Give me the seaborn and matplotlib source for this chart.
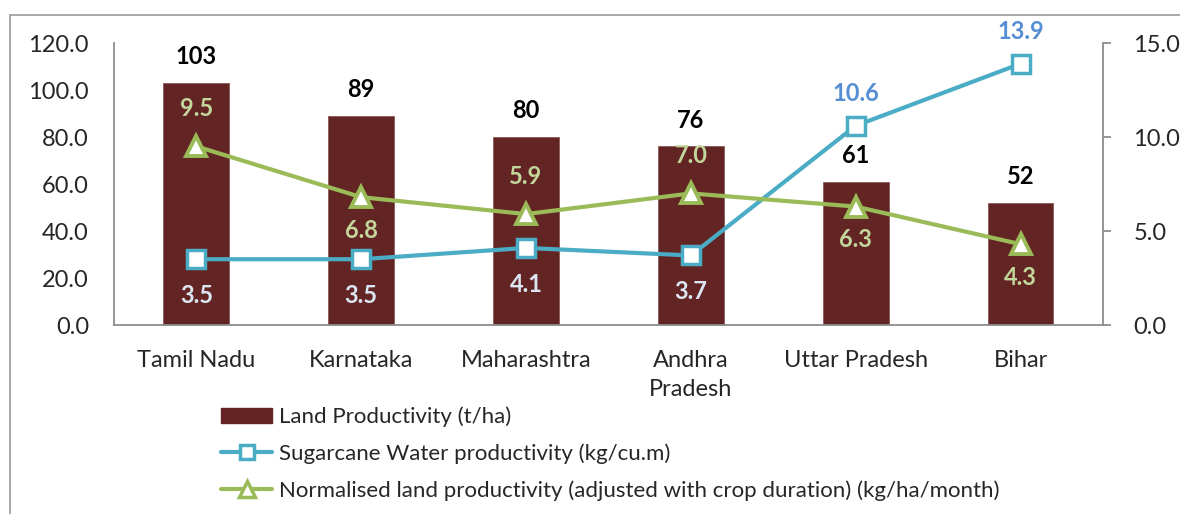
import numpy as np
import matplotlib
matplotlib.use("Agg")
import matplotlib.pyplot as plt
import seaborn as sns
from matplotlib.lines import Line2D
from matplotlib.patches import Patch, Rectangle

# data
states = ["Tamil Nadu", "Karnataka", "Maharashtra", "Andhra\nPradesh", "Uttar Pradesh", "Bihar"]
land_prod = [103, 89, 80, 76, 61, 52]
water_prod = [3.5, 3.5, 4.1, 3.7, 10.6, 13.9]
norm_prod = [9.5, 6.8, 5.9, 7.0, 6.3, 4.3]
water_label_above = [False, False, False, False, True, True]
norm_label_above = [True, False, True, True, False, False]

bar_color = "#632523"
water_color = "#4BACC6"
norm_color = "#9BBB59"

sns.set_style("white")
plt.rcParams["font.family"] = ["Lato", "DejaVu Sans"]

fig = plt.figure(figsize=(11.8, 5.14), dpi=100)
ax = fig.add_axes([0.0966, 0.3677, 0.8381, 0.5486])
pos = np.arange(len(states))

sns.barplot(x=pos, y=land_prod, color=bar_color, width=0.4, ax=ax,
            saturation=1, edgecolor="#8a5a58", linewidth=0.6, native_scale=True)
ax.set_xlim(-0.5, len(states) - 0.5)
ax.set_ylim(0, 120)
ax.set_yticks(np.arange(0, 121, 20))
ax.set_yticklabels([f"{v:.1f}" for v in np.arange(0, 121, 20)])
ax.set_xticks(pos)
ax.set_xticklabels(states, linespacing=1.45)
ax.tick_params(axis="y", length=0, pad=18, labelsize=17)
ax.tick_params(axis="x", length=0, pad=18, labelsize=17)
for s in ["top", "right"]:
    ax.spines[s].set_visible(False)
for s in ["left", "bottom"]:
    ax.spines[s].set_color("#8c8c8c")
    ax.spines[s].set_linewidth(1.3)

for x, v in zip(pos, land_prod):
    ax.annotate(f"{v}", (x, v), xytext=(0, 19), textcoords="offset points",
                ha="center", va="center", fontsize=17, fontweight="bold", color="black")

ax2 = ax.twinx()
sns.lineplot(x=pos, y=water_prod, ax=ax2, color=water_color, linewidth=3,
             marker="s", markersize=13, markerfacecolor="white",
             markeredgecolor=water_color, markeredgewidth=2.5)
sns.lineplot(x=pos, y=norm_prod, ax=ax2, color=norm_color, linewidth=3,
             marker="^", markersize=14, markerfacecolor="white",
             markeredgecolor=norm_color, markeredgewidth=2.8)
ax2.set_ylim(0, 15)
ax2.set_yticks(np.arange(0, 15.1, 5))
ax2.set_yticklabels([f"{v:.1f}" for v in np.arange(0, 15.1, 5)])
ax2.tick_params(axis="y", length=6, width=1.3, color="#8c8c8c", pad=16, labelsize=17, direction="out")
for s in ["top", "left", "bottom"]:
    ax2.spines[s].set_visible(False)
ax2.spines["right"].set_color("#8c8c8c")
ax2.spines["right"].set_linewidth(1.3)
ax2.set_xlim(-0.5, len(states) - 0.5)

for x, v, up in zip(pos, water_prod, water_label_above):
    ax2.annotate(f"{v:.1f}", (x, v), xytext=(0, 23 if up else -26), textcoords="offset points",
                 ha="center", va="center", fontsize=17, fontweight="bold",
                 color="#558ED5" if up else "#DCE6F2")
for x, v, up in zip(pos, norm_prod, norm_label_above):
    ax2.annotate(f"{v:.1f}", (x, v), xytext=(0, 27 if up else -24), textcoords="offset points",
                 ha="center", va="center", fontsize=17, fontweight="bold", color="#C3D69B")

handles = [
    Patch(facecolor=bar_color, edgecolor=bar_color),
    Line2D([], [], color=water_color, linewidth=3, marker="s", markersize=10,
           markerfacecolor="white", markeredgecolor=water_color, markeredgewidth=2.5),
    Line2D([], [], color=norm_color, linewidth=3, marker="^", markersize=11,
           markerfacecolor="white", markeredgecolor=norm_color, markeredgewidth=2.5),
]
labels = [
    "Land Productivity (t/ha)",
    "Sugarcane Water productivity (kg/cu.m)",
    "Normalised land productivity (adjusted with crop duration) (kg/ha/month)",
]
fig.legend(handles, labels, loc="upper left", bbox_to_anchor=(0.18, 0.226),
           frameon=False, fontsize=16, handlelength=2.3, handleheight=0.7,
           labelspacing=0.72, handletextpad=0.3, borderaxespad=0)

# outer chart border
fig.patches.append(Rectangle((10 / 1180, -0.1), 1.2, 1.1 - 15 / 514,
                             transform=fig.transFigure, fill=False,
                             edgecolor="#9a9a9a", linewidth=1.2))

fig.savefig("out.png", dpi=100)
